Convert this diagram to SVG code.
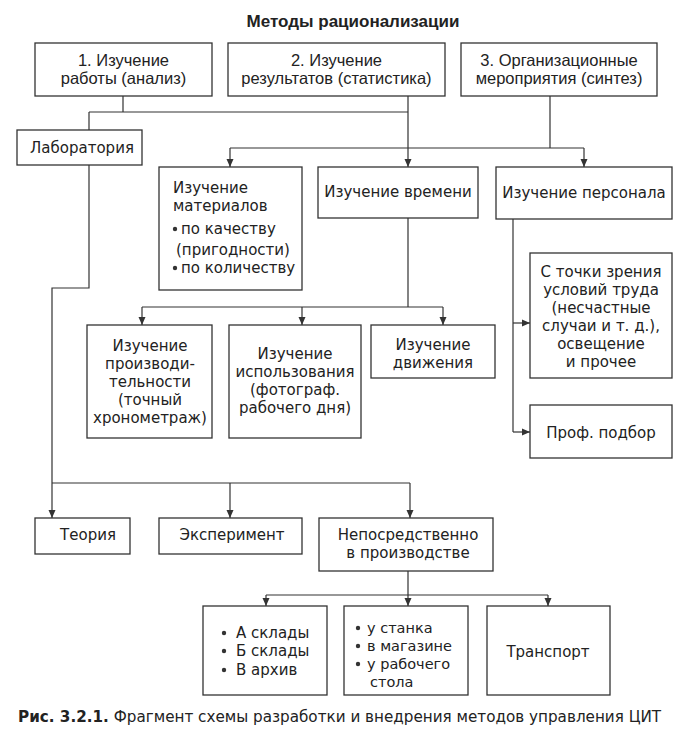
<svg xmlns="http://www.w3.org/2000/svg" width="692" height="742" viewBox="0 0 692 742">
<defs>
<marker id="ah" markerUnits="userSpaceOnUse" markerWidth="8" markerHeight="8" viewBox="0 0 8 8" refX="8" refY="4" orient="auto">
<path d="M0,0.5 L8,4 L0,7.5 Z" fill="#333"/>
</marker>
<style>
.box{fill:#fff;stroke:#333;stroke-width:1.3}
.ln{fill:none;stroke:#333;stroke-width:1.2}
.ar{fill:none;stroke:#333;stroke-width:1.2;marker-end:url(#ah)}
text{fill:#222}
.t1{font-family:"Liberation Sans",Arial,sans-serif;font-size:16.5px;text-anchor:middle}
.t2{font-family:"DejaVu Sans",sans-serif;font-size:15px}
.t4{font-family:"DejaVu Sans",sans-serif;font-size:14.5px}
.c{text-anchor:middle}
.title{font-family:"Liberation Sans",Arial,sans-serif;font-size:17px;font-weight:bold;text-anchor:middle}
.cap{font-family:"DejaVu Sans",sans-serif;font-size:15.2px}
.dot{fill:#333}
</style>
</defs>
<rect width="692" height="742" fill="#fff"/>
<text class="title" x="353" y="27">Методы рационализации</text>

<g id="connectors">
<path class="ln" d="M123,96 V112 M89,112 H408 M89,112 V130"/>
<path class="ln" d="M408,96 V148 M550,96 V148 M230,148 H584"/>
<path class="ar" d="M230,148 V167"/>
<path class="ar" d="M408,148 V167"/>
<path class="ar" d="M584,148 V167"/>
<path class="ln" d="M89,165 V288 H52 V483 M52,483 H410"/>
<path class="ar" d="M52,483 V518"/>
<path class="ar" d="M230,483 V518"/>
<path class="ar" d="M410,483 V518"/>
<path class="ln" d="M408,218 V307 M142,307 H443"/>
<path class="ar" d="M142,307 V325"/>
<path class="ar" d="M302,307 V325"/>
<path class="ar" d="M443,307 V325"/>
<path class="ln" d="M513,219 V432"/>
<path class="ar" d="M513,323 H530"/>
<path class="ar" d="M513,432 H530"/>
<path class="ln" d="M408,571 V595 M266,595 H548"/>
<path class="ar" d="M266,595 V606"/>
<path class="ar" d="M408,595 V606"/>
<path class="ar" d="M548,595 V606"/>
</g>

<g id="n1"><rect class="box" x="35" y="43" width="177" height="53"/>
<text class="t1" x="123.5" y="65.5">1. Изучение</text><text class="t1" x="123.5" y="84">работы (анализ)</text></g>
<g id="n2"><rect class="box" x="228" y="43" width="217" height="53"/>
<text class="t1" x="336.5" y="65.5">2. Изучение</text><text class="t1" x="336.5" y="84">результатов (статистика)</text></g>
<g id="n3"><rect class="box" x="461" y="43" width="196" height="53"/>
<text class="t1" x="559" y="65.5">3. Организационные</text><text class="t1" x="559" y="84">мероприятия (синтез)</text></g>

<g id="lab"><rect class="box" x="17" y="130" width="125" height="35"/>
<text class="t2 c" x="82" y="153">Лаборатория</text></g>

<g id="mat"><rect class="box" x="159" y="167" width="143" height="123"/>
<text class="t2" x="173" y="193">Изучение</text>
<text class="t2" x="173" y="211">материалов</text>
<circle class="dot" cx="175" cy="229" r="2.2"/><text class="t2" x="181" y="234">по качеству</text>
<text class="t2" x="176" y="255">(пригодности)</text>
<circle class="dot" cx="175" cy="268" r="2.2"/><text class="t2" x="181" y="273">по количеству</text></g>

<g id="time"><rect class="box" x="318" y="167" width="160" height="51"/>
<text class="t2 c" x="398" y="197">Изучение времени</text></g>

<g id="pers"><rect class="box" x="496" y="167" width="176" height="52"/>
<text class="t2 c" x="584" y="198">Изучение персонала</text></g>

<g id="prod"><rect class="box" x="87" y="325" width="125" height="113"/>
<text class="t2 c" x="150" y="351">Изучение</text>
<text class="t2 c" x="150" y="369">производи-</text>
<text class="t2 c" x="150" y="387">тельности</text>
<text class="t2 c" x="150" y="405">(точный</text>
<text class="t2 c" x="150" y="423">хронометраж)</text></g>

<g id="use"><rect class="box" x="229" y="325" width="132" height="113"/>
<text class="t2 c" x="295" y="359">Изучение</text>
<text class="t2 c" x="295" y="377">использования</text>
<text class="t2 c" x="295" y="395">(фотограф.</text>
<text class="t2 c" x="295" y="413">рабочего дня)</text></g>

<g id="move"><rect class="box" x="371" y="325" width="124" height="53"/>
<text class="t2 c" x="433" y="350">Изучение</text>
<text class="t2 c" x="433" y="368">движения</text></g>

<g id="cond"><rect class="box" x="530" y="253" width="142" height="125"/>
<text class="t2 c" x="601" y="277">С точки зрения</text>
<text class="t2 c" x="601" y="295">условий труда</text>
<text class="t2 c" x="601" y="313">(несчастные</text>
<text class="t2 c" x="601" y="331">случаи и т. д.),</text>
<text class="t2 c" x="601" y="349">освещение</text>
<text class="t2 c" x="601" y="367">и прочее</text></g>

<g id="prof"><rect class="box" x="530" y="405" width="142" height="53"/>
<text class="t2 c" x="601" y="438">Проф. подбор</text></g>

<g id="teor"><rect class="box" x="35" y="518" width="95" height="36"/>
<text class="t2 c" x="88" y="540">Теория</text></g>
<g id="exp"><rect class="box" x="159" y="518" width="143" height="36"/>
<text class="t2 c" x="232" y="540">Эксперимент</text></g>
<g id="nep"><rect class="box" x="319" y="518" width="174" height="53"/>
<text class="t2 c" x="408" y="540">Непосредственно</text>
<text class="t2 c" x="408" y="558">в производстве</text></g>

<g id="sklad"><rect class="box" x="203" y="606" width="124" height="89"/>
<circle class="dot" cx="224" cy="633" r="2.2"/><text class="t2" x="236" y="638">А склады</text>
<circle class="dot" cx="224" cy="651" r="2.2"/><text class="t2" x="236" y="656">Б склады</text>
<circle class="dot" cx="224" cy="670" r="2.2"/><text class="t2" x="236" y="675">В архив</text></g>

<g id="mesto"><rect class="box" x="344" y="606" width="124" height="89"/>
<circle class="dot" cx="358" cy="628" r="2.2"/><text class="t4" x="367" y="633">у станка</text>
<circle class="dot" cx="358" cy="646" r="2.2"/><text class="t4" x="367" y="651">в магазине</text>
<circle class="dot" cx="358" cy="664" r="2.2"/><text class="t4" x="367" y="669">у рабочего</text>
<text class="t4" x="370" y="687">стола</text></g>

<g id="trans"><rect class="box" x="487" y="606" width="123" height="89"/>
<text class="t2 c" x="548" y="657">Транспорт</text></g>

<text class="cap" x="18" y="722"><tspan font-weight="bold">Рис. 3.2.1.</tspan> Фрагмент схемы разработки и внедрения методов управления ЦИТ</text>
</svg>
